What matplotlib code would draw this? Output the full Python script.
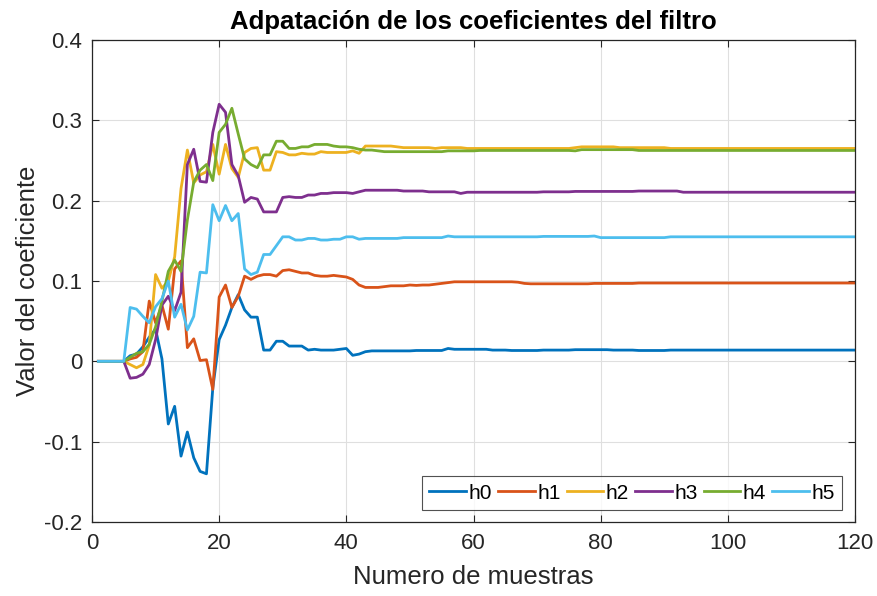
import matplotlib
matplotlib.use("Agg")
import matplotlib.pyplot as plt

plt.rcParams['font.family'] = ['Liberation Sans', 'DejaVu Sans']
plt.rcParams['axes.unicode_minus'] = False

n = list(range(1, 121))

h0 = [0, 0, 0, 0, 0, 0.007, 0.009, 0.018, 0.03, 0.04,
      0.003, -0.078, -0.056, -0.118, -0.088, -0.12, -0.137, -0.14, -0.033, 0.027,
      0.045, 0.067, 0.083, 0.064, 0.055, 0.055, 0.014, 0.014, 0.025, 0.025,
      0.019, 0.019, 0.019, 0.014, 0.015, 0.014, 0.014, 0.014, 0.015, 0.016,
      0.0075, 0.009, 0.012, 0.013, 0.013, 0.013, 0.013, 0.013, 0.013, 0.013,
      0.0135, 0.0135, 0.0135, 0.0135, 0.0135, 0.016, 0.015, 0.015, 0.015, 0.015,
      0.015, 0.015, 0.014, 0.014, 0.014, 0.0135, 0.0135, 0.0135, 0.0135, 0.0135,
      0.014, 0.014, 0.014, 0.014, 0.014, 0.0145, 0.0145, 0.0145, 0.0145, 0.0145,
      0.0145, 0.014, 0.014, 0.014, 0.014, 0.0135, 0.0135, 0.0135, 0.0135, 0.0135,
      0.014, 0.014, 0.014, 0.014, 0.014, 0.014, 0.014, 0.014, 0.014, 0.014,
      0.014, 0.014, 0.014, 0.014, 0.014, 0.014, 0.014, 0.014, 0.014, 0.014,
      0.014, 0.014, 0.014, 0.014, 0.014, 0.014, 0.014, 0.014, 0.014, 0.014]

h1 = [0, 0, 0, 0, 0, 0.003, 0.005, 0.012, 0.075, 0.048,
      0.07, 0.04, 0.115, 0.125, 0.017, 0.028, 0.001, 0.002, -0.035, 0.08,
      0.095, 0.067, 0.081, 0.106, 0.102, 0.106, 0.108, 0.108, 0.106, 0.113,
      0.114, 0.112, 0.110, 0.110, 0.107, 0.106, 0.106, 0.107, 0.106, 0.105,
      0.102, 0.095, 0.092, 0.092, 0.092, 0.093, 0.094, 0.094, 0.094, 0.095,
      0.0945, 0.095, 0.095, 0.096, 0.097, 0.098, 0.099, 0.099, 0.099, 0.099,
      0.099, 0.099, 0.099, 0.099, 0.099, 0.099, 0.0985, 0.097, 0.0965, 0.0965,
      0.0965, 0.0965, 0.0965, 0.0965, 0.0965, 0.0965, 0.0965, 0.0965, 0.097, 0.097,
      0.097, 0.097, 0.097, 0.097, 0.097, 0.0975, 0.0975, 0.0975, 0.0975, 0.0975,
      0.0975, 0.0975, 0.0975, 0.0975, 0.0975, 0.0975, 0.0975, 0.0975, 0.0975, 0.0975,
      0.0975, 0.0975, 0.0975, 0.0975, 0.0975, 0.0975, 0.0975, 0.0975, 0.0975, 0.0975,
      0.0975, 0.0975, 0.0975, 0.0975, 0.0975, 0.0975, 0.0975, 0.0975, 0.0975, 0.0975]

h2 = [0, 0, 0, 0, 0, -0.004, -0.008, -0.004, 0.02, 0.108,
      0.091, 0.1, 0.13, 0.215, 0.263, 0.222, 0.232, 0.236, 0.27, 0.233,
      0.27, 0.24, 0.229, 0.26, 0.265, 0.266, 0.238, 0.238, 0.261, 0.26,
      0.257, 0.257, 0.259, 0.258, 0.258, 0.261, 0.26, 0.26, 0.26, 0.26,
      0.262, 0.259, 0.268, 0.268, 0.268, 0.268, 0.268, 0.267, 0.266, 0.266,
      0.266, 0.266, 0.266, 0.265, 0.266, 0.266, 0.266, 0.266, 0.265, 0.265,
      0.265, 0.265, 0.265, 0.265, 0.265, 0.265, 0.265, 0.265, 0.265, 0.265,
      0.265, 0.265, 0.265, 0.265, 0.265, 0.266, 0.267, 0.267, 0.267, 0.267,
      0.267, 0.267, 0.266, 0.266, 0.266, 0.266, 0.266, 0.266, 0.266, 0.266,
      0.265, 0.265, 0.265, 0.265, 0.265, 0.265, 0.265, 0.265, 0.265, 0.265,
      0.265, 0.265, 0.265, 0.265, 0.265, 0.265, 0.265, 0.265, 0.265, 0.265,
      0.265, 0.265, 0.265, 0.265, 0.265, 0.265, 0.265, 0.265, 0.265, 0.265]

h3 = [0, 0, 0, 0, 0, -0.021, -0.02, -0.016, -0.004, 0.027,
      0.07, 0.081, 0.063, 0.086, 0.245, 0.264, 0.224, 0.223, 0.285, 0.32,
      0.31, 0.245, 0.231, 0.198, 0.204, 0.202, 0.186, 0.186, 0.186, 0.204,
      0.205, 0.204, 0.204, 0.207, 0.207, 0.209, 0.209, 0.21, 0.21, 0.21,
      0.209, 0.211, 0.213, 0.213, 0.213, 0.213, 0.213, 0.213, 0.212, 0.212,
      0.212, 0.212, 0.211, 0.211, 0.211, 0.211, 0.211, 0.209, 0.2105, 0.2105,
      0.2105, 0.2105, 0.2105, 0.2105, 0.2105, 0.2105, 0.2105, 0.2105, 0.2105, 0.2105,
      0.211, 0.211, 0.211, 0.211, 0.211, 0.2115, 0.2115, 0.2115, 0.2115, 0.2115,
      0.2115, 0.2115, 0.2115, 0.2115, 0.2115, 0.212, 0.212, 0.212, 0.212, 0.212,
      0.212, 0.212, 0.2105, 0.2105, 0.2105, 0.2105, 0.2105, 0.2105, 0.2105, 0.2105,
      0.2105, 0.2105, 0.2105, 0.2105, 0.2105, 0.2105, 0.2105, 0.2105, 0.2105, 0.2105,
      0.2105, 0.2105, 0.2105, 0.2105, 0.2105, 0.2105, 0.2105, 0.2105, 0.2105, 0.2105]

h4 = [0, 0, 0, 0, 0, 0.005, 0.01, 0.012, 0.021, 0.043,
      0.075, 0.112, 0.126, 0.112, 0.176, 0.223, 0.238, 0.245, 0.225, 0.285,
      0.295, 0.315, 0.283, 0.252, 0.245, 0.241, 0.257, 0.257, 0.274, 0.274,
      0.265, 0.265, 0.267, 0.267, 0.27, 0.27, 0.27, 0.268, 0.267, 0.267,
      0.266, 0.264, 0.263, 0.263, 0.262, 0.261, 0.261, 0.261, 0.261, 0.261,
      0.261, 0.261, 0.261, 0.261, 0.261, 0.262, 0.262, 0.262, 0.262, 0.262,
      0.2625, 0.2625, 0.2625, 0.2625, 0.2625, 0.2625, 0.2625, 0.2625, 0.2625, 0.2625,
      0.2625, 0.2625, 0.2625, 0.2625, 0.2625, 0.262, 0.2635, 0.2635, 0.2635, 0.2635,
      0.2635, 0.2635, 0.2635, 0.2635, 0.2635, 0.2625, 0.2625, 0.2625, 0.2625, 0.2625,
      0.2625, 0.2625, 0.2625, 0.2625, 0.2625, 0.2625, 0.2625, 0.2625, 0.2625, 0.2625,
      0.2625, 0.2625, 0.2625, 0.2625, 0.2625, 0.2625, 0.2625, 0.2625, 0.2625, 0.2625,
      0.2625, 0.2625, 0.2625, 0.2625, 0.2625, 0.2625, 0.2625, 0.2625, 0.2625, 0.2625]

h5 = [0, 0, 0, 0, 0, 0.067, 0.065, 0.056, 0.048, 0.068,
      0.078, 0.1, 0.055, 0.071, 0.039, 0.056, 0.111, 0.11, 0.195, 0.175,
      0.194, 0.175, 0.184, 0.115, 0.108, 0.111, 0.133, 0.133, 0.144, 0.155,
      0.155, 0.151, 0.151, 0.153, 0.153, 0.151, 0.151, 0.152, 0.152, 0.155,
      0.155, 0.152, 0.153, 0.153, 0.153, 0.153, 0.153, 0.153, 0.154, 0.154,
      0.154, 0.154, 0.154, 0.154, 0.154, 0.156, 0.155, 0.155, 0.155, 0.155,
      0.155, 0.155, 0.155, 0.155, 0.155, 0.155, 0.155, 0.155, 0.155, 0.155,
      0.1555, 0.1555, 0.1555, 0.1555, 0.1555, 0.1555, 0.1555, 0.1555, 0.156, 0.154,
      0.154, 0.154, 0.154, 0.154, 0.154, 0.154, 0.154, 0.154, 0.154, 0.154,
      0.155, 0.155, 0.155, 0.155, 0.155, 0.155, 0.155, 0.155, 0.155, 0.155,
      0.155, 0.155, 0.155, 0.155, 0.155, 0.155, 0.155, 0.155, 0.155, 0.155,
      0.155, 0.155, 0.155, 0.155, 0.155, 0.155, 0.155, 0.155, 0.155, 0.155]

series = [h0, h1, h2, h3, h4, h5]
labels = ['h0', 'h1', 'h2', 'h3', 'h4', 'h5']
colors = ['#0072BD', '#D95319', '#EDB120', '#7E2F8E', '#77AC30', '#4DBEEE']

xticks = [0, 20, 40, 60, 80, 100, 120]
yticks = [-0.2, -0.1, 0, 0.1, 0.2, 0.3, 0.4]
yticklabels = ['-0.2', '-0.1', '0', '0.1', '0.2', '0.3', '0.4']

fig = plt.figure(figsize=(8.77, 5.96), dpi=100)
ax = fig.add_axes([92/877, 1-522/596, (855-92)/877, (522-40)/596])

for s, lab, c in zip(series, labels, colors):
    ax.plot(n, s, color=c, lw=2.0, label=lab)

ax.set_xlim(0, 120)
ax.set_ylim(-0.2, 0.4)
ax.set_xticks(xticks)
ax.set_yticks(yticks)
ax.set_yticklabels(yticklabels)
ax.grid(True, color='#dfdfdf', lw=0.8)
ax.set_axisbelow(True)
ax.tick_params(direction='in', length=5, width=0.8, top=True, right=True,
               labelsize=16, colors='#262626')
ax.tick_params(axis='y', pad=7)
ax.tick_params(axis='x', pad=8)
for sp in ax.spines.values():
    sp.set_color('#262626')
    sp.set_linewidth(0.9)

ax.set_xlabel('Numero de muestras', fontsize=18.5, color='#262626', labelpad=8)
ax.set_ylabel('Valor del coeficiente', fontsize=18.5, color='#262626', labelpad=3)
ax.set_title('Adpatación de los coeficientes del filtro', fontsize=18.5,
             fontweight='bold', color='black', pad=8)

leg = ax.legend(ncol=6, loc='lower right', bbox_to_anchor=(0.983, 0.025),
                fontsize=15, frameon=True, fancybox=False, handlelength=1.75,
                handletextpad=0.12, columnspacing=0.3, borderpad=0.35,
                borderaxespad=0.0)
leg.get_frame().set_edgecolor('#262626')
leg.get_frame().set_linewidth(0.8)

fig.savefig('out.png', dpi=100)
